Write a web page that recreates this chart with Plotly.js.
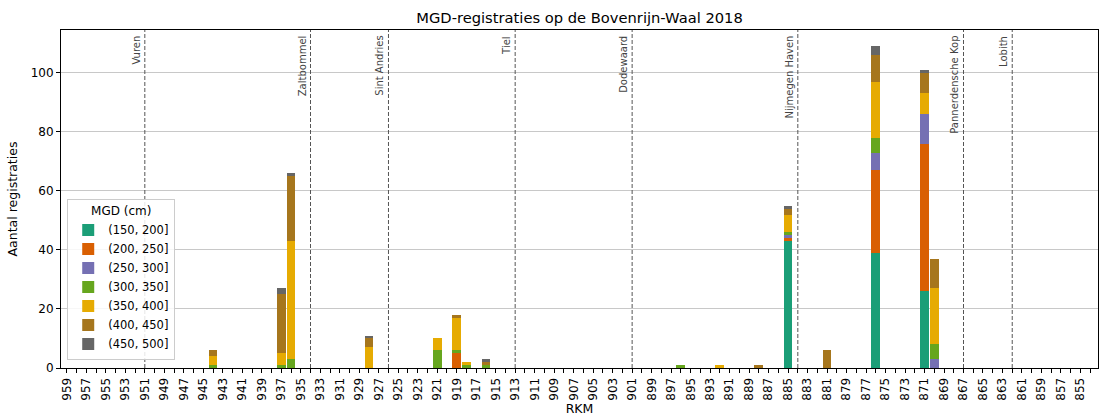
<!DOCTYPE html>
<html>
<head>
<meta charset="utf-8">
<script src="https://cdn.plot.ly/plotly-3.0.1.min.js"></script>
<style>html,body{margin:0;padding:0;background:#fff;}#chart{width:1106px;height:416px;}</style>
</head>
<body>
<div id="chart"></div>
<script>
// All river-km categories on the axis (left to right)
const rkmCategories = [
  959,958,957,956,955,954,953,952,951,950,949,948,947,946,945,944,943,942,941,940,
  939,938,937,936,935,934,933,932,931,930,929,928,927,926,925,924,923,922,921,920,
  919,918,917,916,915,914,913,912,911,910,909,908,907,906,905,904,903,902,901,900,
  899,898,897,896,895,894,893,892,891,890,889,888,887,886,885,884,883,882,881,880,
  879,878,877,876,875,874,873,872,871,870,869,868,867,866,865,864,863,862,861,860,
  859,858,857,856,855,854
];
// Tick labels shown (every other km)
const tickLabels = [959,957,955,953,951,949,947,945,943,941,939,937,935,933,931,929,927,925,923,921,
  919,917,915,913,911,909,907,905,903,901,899,897,895,893,891,889,887,885,883,881,879,877,875,873,871,
  869,867,865,863,861,859,857,855];

// River km with registrations
const barRkm = [944, 937, 936, 928, 921, 919, 918, 916, 896, 892, 888, 885, 881, 876, 871, 870];
// Counts per MGD class
const mgd150_200 = [0, 0, 0, 0, 0, 0, 0, 0, 0, 0, 0, 43, 0, 39, 26, 0];
const mgd200_250 = [0, 0, 0, 0, 0, 5, 0, 0, 0, 0, 0, 1, 0, 28, 50, 0];
const mgd250_300 = [0, 0, 0, 0, 0, 0, 0, 0, 0, 0, 0, 1, 0, 6, 10, 3];
const mgd300_350 = [1, 1, 3, 0, 6, 1, 1, 1, 1, 0, 0, 1, 0, 5, 0, 5];
const mgd350_400 = [3, 4, 40, 7, 4, 11, 1, 0, 0, 1, 0, 6, 0, 19, 7, 19];
const mgd400_450 = [2, 20, 22, 3, 0, 1, 0, 1, 0, 0, 1, 2, 6, 9, 7, 10];
const mgd450_500 = [0, 2, 1, 1, 0, 0, 0, 1, 0, 0, 0, 1, 0, 3, 1, 0];

const seriesNames = ['(150, 200]', '(200, 250]', '(250, 300]', '(300, 350]', '(350, 400]', '(400, 450]', '(450, 500]'];
const seriesValues = [mgd150_200, mgd200_250, mgd250_300, mgd300_350, mgd350_400, mgd400_450, mgd450_500];
const seriesColors = ['#1b9e77', '#d95f02', '#7570b3', '#66a61e', '#e6ab02', '#a6761d', '#666666'];

// Reference locations
const locNames = ['Vuren', 'Zaltbommel', 'Sint Andries', 'Tiel', 'Dodewaard', 'Nijmegen Haven', 'Pannerdensche Kop', 'Lobith'];
const locRkm = [951, 934, 926, 913, 901, 884, 867, 862];

const cats = rkmCategories.map(String);
const tickLabelSet = new Set(tickLabels.map(String));
const catIndex = r => rkmCategories.indexOf(r);

const traces = seriesNames.map((name, i) => ({
  type: 'bar',
  name: name,
  x: barRkm.map(String),
  y: seriesValues[i],
  width: 0.9,
  marker: {color: seriesColors[i], line: {width: 0}},
  hoverinfo: 'x+y+name'
}));

const shapes = locRkm.map(r => ({
  type: 'line', xref: 'x', yref: 'paper',
  x0: catIndex(r), x1: catIndex(r), y0: 0, y1: 1,
  line: {color: '#555555', width: 1, dash: '4px,2px'},
  layer: 'above'
}));

const annotations = locNames.map((n, i) => ({
  text: n, xref: 'x', yref: 'paper',
  x: catIndex(locRkm[i]), y: 0.986,
  xanchor: 'right', yanchor: 'top',
  textangle: -90, showarrow: false,
  xshift: -2,
  borderpad: 0,
  font: {family: 'DejaVu Sans', size: 10, color: '#444444'}
}));

const layout = {
  width: 1106, height: 416,
  margin: {l: 61, r: 8, t: 30, b: 48},
  paper_bgcolor: '#ffffff', plot_bgcolor: '#ffffff',
  barmode: 'stack',
  bargap: 0,
  font: {family: 'DejaVu Sans', size: 12, color: '#000000'},
  title: {text: 'MGD-registraties op de Bovenrijn-Waal 2018', x: 0.524, xanchor: 'center', y: 0.958, yanchor: 'middle',
          font: {family: 'DejaVu Sans', size: 14.7, color: '#000000'}},
  xaxis: {
    type: 'category',
    categoryorder: 'array', categoryarray: cats,
    range: [-0.6, 105.8],
    tickmode: 'array', tickvals: cats,
    ticktext: cats.map(c => tickLabelSet.has(c) ? c : ''),
    tickangle: -90,
    ticks: 'outside', ticklen: 4, tickcolor: '#000', tickwidth: 1,
    tickfont: {family: 'DejaVu Sans', size: 12, color: '#000'},
    showgrid: false, zeroline: false,
    showline: true, linecolor: '#000', linewidth: 1, mirror: true,
    title: {text: 'RKM', font: {family: 'DejaVu Sans', size: 12.5, color: '#000'}, standoff: 2},
    fixedrange: true
  },
  yaxis: {
    range: [0, 114.5],
    tickmode: 'array', tickvals: [0, 20, 40, 60, 80, 100],
    ticks: 'outside', ticklen: 4, tickcolor: '#000', tickwidth: 1,
    tickfont: {family: 'DejaVu Sans', size: 12, color: '#000'},
    showgrid: true, gridcolor: '#c8c8c8', gridwidth: 1,
    zeroline: false,
    showline: true, linecolor: '#000', linewidth: 1, mirror: true,
    title: {text: 'Aantal registraties', font: {family: 'DejaVu Sans', size: 12.5, color: '#000'}, standoff: 10},
    fixedrange: true
  },
  legend: {
    x: 0.006, y: 0.024, xanchor: 'left', yanchor: 'bottom',
    traceorder: 'normal',
    bgcolor: 'rgba(255,255,255,0.85)', bordercolor: '#cccccc', borderwidth: 1,
    font: {family: 'DejaVu Sans', size: 11.5, color: '#000'},
    title: {text: 'MGD (cm)', side: 'top center', font: {family: 'DejaVu Sans', size: 12, color: '#000'}},
    tracegroupgap: 0, itemwidth: 30
  },
  shapes: shapes,
  annotations: annotations,
  showlegend: true
};

Plotly.newPlot('chart', traces, layout, {displayModeBar: false, staticPlot: true});
</script>
</body>
</html>
